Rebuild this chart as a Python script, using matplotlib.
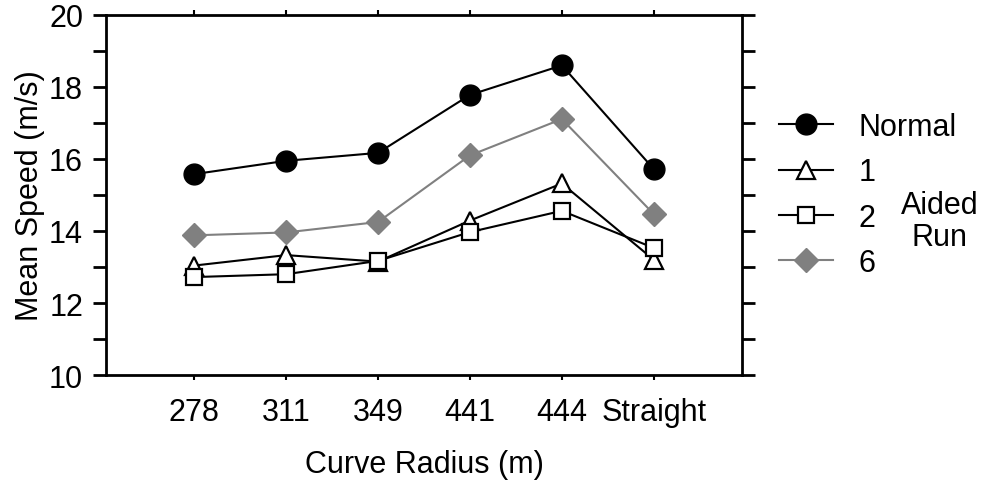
import matplotlib
matplotlib.use("Agg")
import matplotlib.pyplot as plt
import numpy as np

plt.rcParams['font.family'] = ['Liberation Sans', 'DejaVu Sans']

# data
radius = ["278", "311", "349", "441", "444", "Straight"]
normal = [15.58, 15.95, 16.17, 17.78, 18.6, 15.72]
run1 = [13.04, 13.33, 13.15, 14.29, 15.32, 13.2]
run2 = [12.72, 12.8, 13.17, 13.97, 14.56, 13.53]
run6 = [13.88, 13.96, 14.25, 16.1, 17.11, 14.47]

fig = plt.figure(figsize=(9.9, 4.85), dpi=100)
ax = fig.add_axes([106/990, 1-376/485, (742-106)/990, (376-16)/485])

x = np.arange(len(radius))
lw = 1.5
ax.plot(x, normal, color='black', lw=lw, marker='o', ms=15, mfc='black', mec='black', label='Normal', zorder=3)
ax.plot(x, run1, color='black', lw=lw, marker='^', ms=13, mfc='white', mec='black', mew=1.6, label='1', zorder=4)
ax.plot(x, run2, color='black', lw=lw, marker='s', ms=12, mfc='white', mec='black', mew=1.6, label='2', zorder=5)
ax.plot(x, run6, color='#808080', lw=lw, marker='D', ms=12, mfc='#808080', mec='#808080', label='6', zorder=3)

ax.set_xlim(-0.96, 5.96)
ax.set_ylim(10, 20)
ax.set_xticks(x)
ax.set_xticklabels(radius)
ax.set_yticks(np.arange(10, 21, 1))
ax.set_yticklabels([str(v) if v % 2 == 0 else '' for v in range(10, 21)])

fs = 22
for s in ax.spines.values():
    s.set_linewidth(2)
ax.tick_params(axis='y', which='both', direction='out', length=9.5, width=2,
               left=True, right=True, labelsize=fs, pad=7)
ax.tick_params(axis='x', direction='out', length=3.5, width=1.5,
               bottom=True, top=True, labelsize=fs, pad=12)

ax.set_xlabel('Curve Radius (m)', fontsize=fs, labelpad=16)
ax.set_ylabel('Mean Speed (m/s)', fontsize=fs, labelpad=3)

leg = ax.legend(loc='center left', bbox_to_anchor=(1.058, 0.5), frameon=False,
                fontsize=fs, handlelength=1.76, handletextpad=0.85,
                labelspacing=0.5, borderaxespad=0, borderpad=0)
fig.text(940/990, 1-222/485, 'Aided\nRun', ha='center', va='center',
         fontsize=fs, linespacing=1.1)

fig.savefig('out.png', dpi=100)
